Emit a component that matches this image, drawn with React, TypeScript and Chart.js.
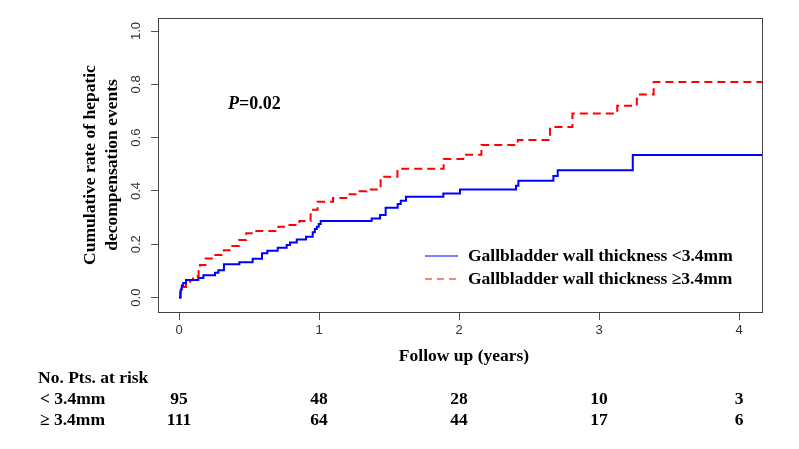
import React, { useEffect, useRef } from 'react';
import { Chart, registerables } from 'chart.js';
Chart.register(...registerables);

// Kaplan-Meier style cumulative incidence, group < 3.4mm
const LOW_TIMES = [0, 0.012, 0.02, 0.03, 0.05, 0.138, 0.174, 0.257, 0.281, 0.321, 0.431, 0.526, 0.593, 0.631, 0.705, 0.769, 0.793, 0.841, 0.907, 0.955, 0.97, 0.985, 0.998, 1.012, 1.376, 1.436, 1.476, 1.562, 1.584, 1.621, 1.888, 2.007, 2.407, 2.424, 2.674, 2.705, 3.241, 4.2];
const LOW_VALUES = [0, 0.03, 0.045, 0.055, 0.066, 0.074, 0.084, 0.093, 0.103, 0.125, 0.133, 0.146, 0.166, 0.176, 0.187, 0.197, 0.207, 0.218, 0.228, 0.245, 0.257, 0.266, 0.276, 0.287, 0.297, 0.31, 0.337, 0.351, 0.363, 0.378, 0.391, 0.406, 0.42, 0.438, 0.456, 0.478, 0.535, 0.535];
// group >= 3.4mm
const HIGH_TIMES = [0, 0.008, 0.02, 0.05, 0.08, 0.1, 0.14, 0.15, 0.19, 0.25, 0.32, 0.38, 0.43, 0.48, 0.54, 0.71, 0.77, 0.86, 0.94, 0.99, 1.1, 1.21, 1.28, 1.34, 1.42, 1.44, 1.56, 1.89, 2.03, 2.16, 2.42, 2.65, 2.81, 3.13, 3.27, 3.39, 4.2];
const HIGH_VALUES = [0, 0.02, 0.04, 0.055, 0.065, 0.08, 0.1, 0.122, 0.147, 0.16, 0.178, 0.194, 0.216, 0.241, 0.25, 0.266, 0.272, 0.287, 0.33, 0.36, 0.374, 0.388, 0.399, 0.406, 0.418, 0.453, 0.483, 0.52, 0.536, 0.573, 0.591, 0.64, 0.691, 0.72, 0.762, 0.809, 0.809];

const SERIES_LABELS = ['Gallbladder wall thickness <3.4mm', 'Gallbladder wall thickness \u22653.4mm'];
const X_TICKS = [0, 1, 2, 3, 4];
const Y_TICKS = [0, 0.2, 0.4, 0.6, 0.8, 1.0];
const RISK_TIMES = [0, 1, 2, 3, 4];
const RISK_LOW = [95, 48, 28, 10, 3];
const RISK_HIGH = [111, 64, 44, 17, 6];
const RISK_ROW_LABELS = ['< 3.4mm', '\u2265 3.4mm'];
const RISK_TITLE = 'No. Pts. at risk';
const X_TITLE = 'Follow up (years)';
const Y_TITLE = ['Cumulative rate of hepatic', 'decompensation events'];
const P_LABEL = 'P';
const P_VALUE = '=0.02';

const SERIF = '"Liberation Serif", "Times New Roman", serif';
const SANS = '"Liberation Sans", Arial, sans-serif';

const overlay = {
  id: 'overlay',
  afterDraw(chart: any) {
    const ctx = chart.ctx;
    const ca = chart.chartArea;
    const xs = chart.scales.x;
    const ys = chart.scales.y;
    ctx.save();
    // frame
    ctx.strokeStyle = '#444';
    ctx.lineWidth = 1;
    ctx.strokeRect(Math.round(ca.left) + 0.5, Math.round(ca.top) + 0.5, Math.round(ca.right - ca.left), Math.round(ca.bottom - ca.top));

    // y tick labels (rotated)
    ctx.fillStyle = '#333';
    ctx.font = '13px ' + SANS;
    ctx.textAlign = 'center';
    ctx.textBaseline = 'middle';
    Y_TICKS.forEach((v) => {
      const py = ys.getPixelForValue(v);
      ctx.save();
      ctx.translate(136, py);
      ctx.rotate(-Math.PI / 2);
      ctx.fillText(v.toFixed(1), 0, 0);
      ctx.restore();
    });

    // y title
    ctx.fillStyle = '#000';
    ctx.font = 'bold 17.5px ' + SERIF;
    const cy = (ca.top + ca.bottom) / 2;
    [90, 112].forEach((x, i) => {
      ctx.save();
      ctx.translate(x, cy);
      ctx.rotate(-Math.PI / 2);
      ctx.fillText(Y_TITLE[i], 0, 0);
      ctx.restore();
    });

    // x title
    ctx.fillText(X_TITLE, (ca.left + ca.right) / 2 + 4, 356);

    // P value
    ctx.textAlign = 'left';
    ctx.font = 'italic bold 18px ' + SERIF;
    ctx.fillText(P_LABEL, 228, 104);
    const pw = ctx.measureText(P_LABEL).width;
    ctx.font = 'bold 18px ' + SERIF;
    ctx.fillText(P_VALUE, 228 + pw, 104);

    // legend
    const ds = chart.data.datasets;
    const legY = [256, 279];
    ds.forEach((d: any, i: number) => {
      ctx.save();
      ctx.strokeStyle = d.borderColor;
      ctx.lineWidth = 1.2;
      ctx.setLineDash(i === 1 ? [7, 5] : []);
      ctx.beginPath();
      ctx.moveTo(425, legY[i]);
      ctx.lineTo(458, legY[i]);
      ctx.stroke();
      ctx.restore();
      ctx.fillStyle = '#000';
      ctx.font = 'bold 17.5px ' + SERIF;
      ctx.textAlign = 'left';
      ctx.fillText(d.label, 468, legY[i]);
    });

    // risk table
    ctx.font = 'bold 17.5px ' + SERIF;
    ctx.textAlign = 'left';
    ctx.fillText(RISK_TITLE, 38, 378);
    ctx.fillText(RISK_ROW_LABELS[0], 40, 399);
    ctx.fillText(RISK_ROW_LABELS[1], 40, 420);
    ctx.textAlign = 'center';
    RISK_TIMES.forEach((t, i) => {
      const px = xs.getPixelForValue(t);
      ctx.fillText(String(RISK_LOW[i]), px, 399);
      ctx.fillText(String(RISK_HIGH[i]), px, 420);
    });
    ctx.restore();
  },
};

export default function App() {
  const ref = useRef<HTMLCanvasElement>(null);
  useEffect(() => {
    document.body.style.margin = '0';
    const canvas = ref.current!;
    const chart = new Chart(canvas, {
      type: 'line',
      data: {
        datasets: [
          {
            label: SERIES_LABELS[0],
            data: LOW_TIMES.map((t, i) => ({ x: t, y: LOW_VALUES[i] })),
            borderColor: '#0000ff',
            borderWidth: 2,
            stepped: 'before',
            pointRadius: 0,
            fill: false,
          },
          {
            label: SERIES_LABELS[1],
            data: HIGH_TIMES.map((t, i) => ({ x: t, y: HIGH_VALUES[i] })),
            borderColor: '#ff0000',
            borderWidth: 2,
            borderDash: [8, 5],
            stepped: 'before',
            pointRadius: 0,
            fill: false,
          },
        ],
      },
      options: {
        responsive: false,
        animation: false,
        layout: { padding: { left: 0, top: 18, right: 37, bottom: 0 } },
        plugins: { legend: { display: false }, tooltip: { enabled: false } },
        scales: {
          x: {
            type: 'linear',
            min: -0.15,
            max: 4.164,
            afterBuildTicks: (s: any) => { s.ticks = X_TICKS.map((v) => ({ value: v })); },
            afterFit: (s: any) => { s.height = 137; },
            grid: { drawOnChartArea: false, drawTicks: true, tickLength: 8, color: '#555' },
            border: { display: false },
            ticks: { font: { size: 13, family: SANS }, color: '#333', padding: 3, maxRotation: 0, autoSkip: false, callback: (v: any) => String(v) },
          },
          y: {
            type: 'linear',
            min: -0.054,
            max: 1.049,
            afterBuildTicks: (s: any) => { s.ticks = Y_TICKS.map((v) => ({ value: v })); },
            afterFit: (s: any) => { s.width = 158; },
            grid: { drawOnChartArea: false, drawTicks: true, tickLength: 7, color: '#555' },
            border: { display: false },
            ticks: { display: false },
          },
        },
      },
      plugins: [overlay],
    });
    return () => chart.destroy();
  }, []);
  return (
    <div style={{ width: 799, height: 449, background: '#fff' }}>
      <canvas ref={ref} width={799} height={449} />
    </div>
  );
}
